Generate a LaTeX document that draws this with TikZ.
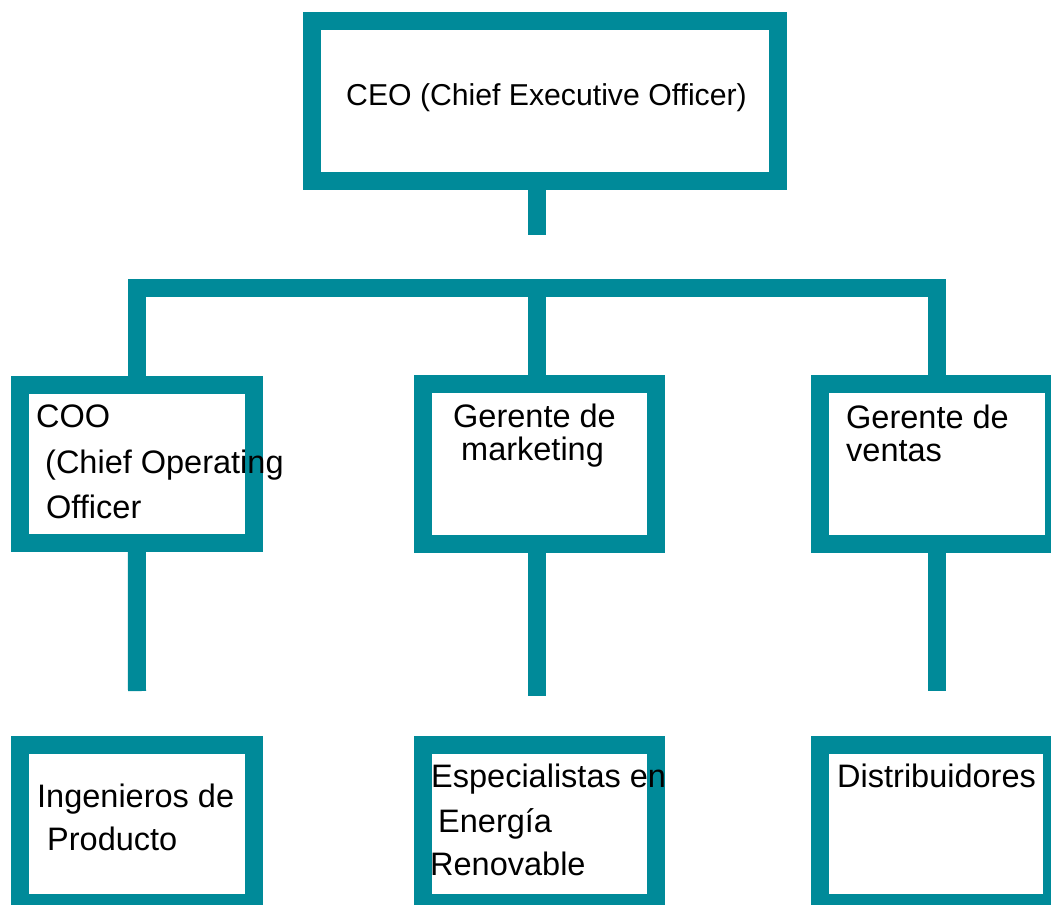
\documentclass[tikz,border=0pt]{standalone}
\usepackage{fontspec}
\setmainfont{Liberation Sans}
\definecolor{orgteal}{RGB}{0,138,153}
\begin{document}
\begin{tikzpicture}[x=1pt,y=-1pt,
  box/.style={draw=orgteal, line width=18pt, rectangle, inner sep=0pt, fill=white},
  conn/.style={draw=orgteal, line width=18pt, line join=miter},
  lbl/.style={anchor=base west, inner sep=0pt, font=\fontsize{32.5}{38}\selectfont, text=black},
  toplbl/.style={lbl, font=\fontsize{30.2}{36}\selectfont}]
\useasboundingbox (0,0) rectangle (1051,904);
\fill[white] (0,0) rectangle (1051,904);
\clip (0,0) rectangle (1051,904);

% boxes
\node[box, minimum width=466.5pt, minimum height=159.5pt] (ceo) at (544.75,101.25) {};
\node[box, minimum width=233.5pt, minimum height=157.5pt] (coo) at (136.75,463.75) {};
\node[box, minimum width=233.5pt, minimum height=159.5pt] (mkt) at (539.25,463.75) {};
\node[box, minimum width=234pt, minimum height=159.5pt] (ven) at (937,463.75) {};
\node[box, minimum width=233.5pt, minimum height=158.5pt] (ing) at (136.75,823.75) {};
\node[box, minimum width=233.5pt, minimum height=158.5pt] (esp) at (539.25,823.75) {};
\node[box, minimum width=232pt, minimum height=158.5pt] (dis) at (936,823.75) {};

% connector coordinates
\coordinate (ceoend) at (536.5,235);
\coordinate (bar) at (537,288);
\coordinate (cooend) at (137,691);
\coordinate (mktend) at (537,696);
\coordinate (venend) at (937,691);

% connectors
\draw[conn] (ceoend |- ceo.south) -- (ceoend);
\draw[conn] (coo.north) -- (coo.north |- bar) -- (ven.north |- bar) -- (ven.north);
\draw[conn] (bar) -- (bar |- mkt.north);
\draw[conn] (coo.south) -- (cooend);
\draw[conn] (mktend |- mkt.south) -- (mktend);
\draw[conn] (ven.south) -- (venend);

% labels
\node[toplbl] (t1) at (346,106) {CEO (Chief Executive Officer)};
\node[lbl] (t2) at (36,427) {COO};
\node[lbl] (t3) at (45,473) {(Chief Operating};
\node[lbl] (t4) at (46,518) {Officer};
\node[lbl] (t5) at (453,427) {Gerente de};
\node[lbl] (t6) at (461,460) {marketing};
\node[lbl] (t7) at (846,428) {Gerente de};
\node[lbl] (t8) at (846,461) {ventas};
\node[lbl] (t9) at (37,807) {Ingenieros de};
\node[lbl] (t10) at (47,850) {Producto};
\node[lbl] (t11) at (431,787) {Especialistas en};
\node[lbl] (t12) at (438,832) {Energía};
\node[lbl] (t13) at (430,875) {Renovable};
\node[lbl] (t14) at (837,787) {Distribuidores};
\end{tikzpicture}
\end{document}
